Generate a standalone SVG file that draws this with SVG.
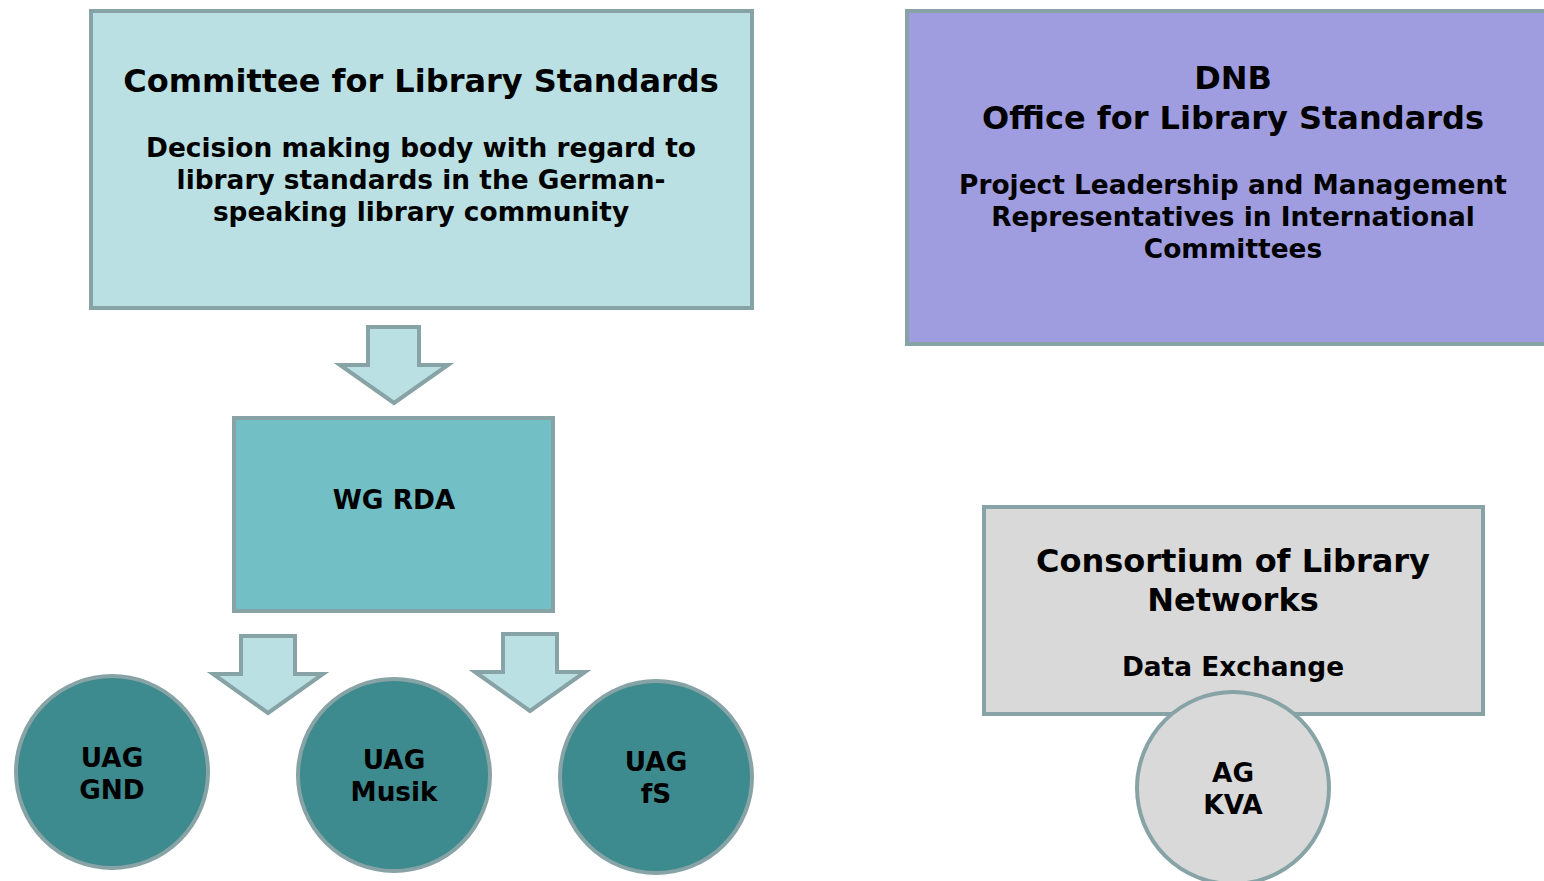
<svg xmlns="http://www.w3.org/2000/svg" width="1544" height="881" viewBox="0 0 1544 881">
<style>
.t{font-family:"DejaVu Sans","Liberation Sans",sans-serif;font-weight:bold;fill:#000;text-anchor:middle}
.h{font-size:32px}
.s{font-size:26.4px}
.c{font-size:26.3px}
.bd{stroke:#87a3a5;stroke-width:4}
.arr{fill:#bae0e3;stroke:#87a3a5;stroke-width:4;stroke-linejoin:miter}
</style>
<rect width="1544" height="881" fill="#fff"/>
<g id="connectors">
<polygon class="arr" points="368,327 419,327 419,365 448,365 394,403 340,365 368,365"/>
<polygon class="arr" points="241,636 295,636 295,674 323,674 268,713 213,674 241,674"/>
<polygon class="arr" points="503,634 557,634 557,672 585,672 530,711 475,672 503,672"/>
</g>
<g id="committee">
<rect class="bd" x="91" y="11" width="661" height="297" fill="#bae0e3"/>
<text class="t h" x="421" y="92">Committee for Library Standards</text>
<text class="t s" x="421" y="157">Decision making body with regard to</text>
<text class="t s" x="421" y="189">library standards in the German-</text>
<text class="t s" x="421" y="221">speaking library community</text>
</g>
<g id="dnb">
<rect class="bd" x="907" y="11" width="660" height="333" fill="#9f9ddf"/>
<text class="t h" x="1233" y="89">DNB</text>
<text class="t h" x="1233" y="129">Office for Library Standards</text>
<text class="t s" x="1233" y="194">Project Leadership and Management</text>
<text class="t s" x="1233" y="226">Representatives in International</text>
<text class="t s" x="1233" y="258">Committees</text>
</g>
<g id="wgrda">
<rect class="bd" x="234" y="418" width="319" height="193" fill="#72bfc6"/>
<text class="t s" x="394" y="509">WG RDA</text>
</g>
<g id="uag-gnd">
<circle class="bd" cx="112" cy="772" r="96" fill="#3d8a8f"/>
<text class="t c" x="112" y="767">UAG</text>
<text class="t c" x="112" y="799">GND</text>
</g>
<g id="uag-musik">
<circle class="bd" cx="394" cy="775" r="96" fill="#3d8a8f"/>
<text class="t c" x="394" y="769">UAG</text>
<text class="t c" x="394" y="801">Musik</text>
</g>
<g id="uag-fs">
<circle class="bd" cx="656" cy="777" r="96" fill="#3d8a8f"/>
<text class="t c" x="656" y="771">UAG</text>
<text class="t c" x="656" y="803">fS</text>
</g>
<g id="consortium">
<rect class="bd" x="984" y="507" width="499" height="207" fill="#d9d9d9"/>
<text class="t h" x="1233" y="572">Consortium of Library</text>
<text class="t h" x="1233" y="611">Networks</text>
<text class="t s" x="1233" y="676">Data Exchange</text>
</g>
<g id="ag-kva">
<circle class="bd" cx="1233" cy="788" r="96" fill="#d9d9d9"/>
<text class="t c" x="1233" y="782">AG</text>
<text class="t c" x="1233" y="814">KVA</text>
</g>
</svg>
